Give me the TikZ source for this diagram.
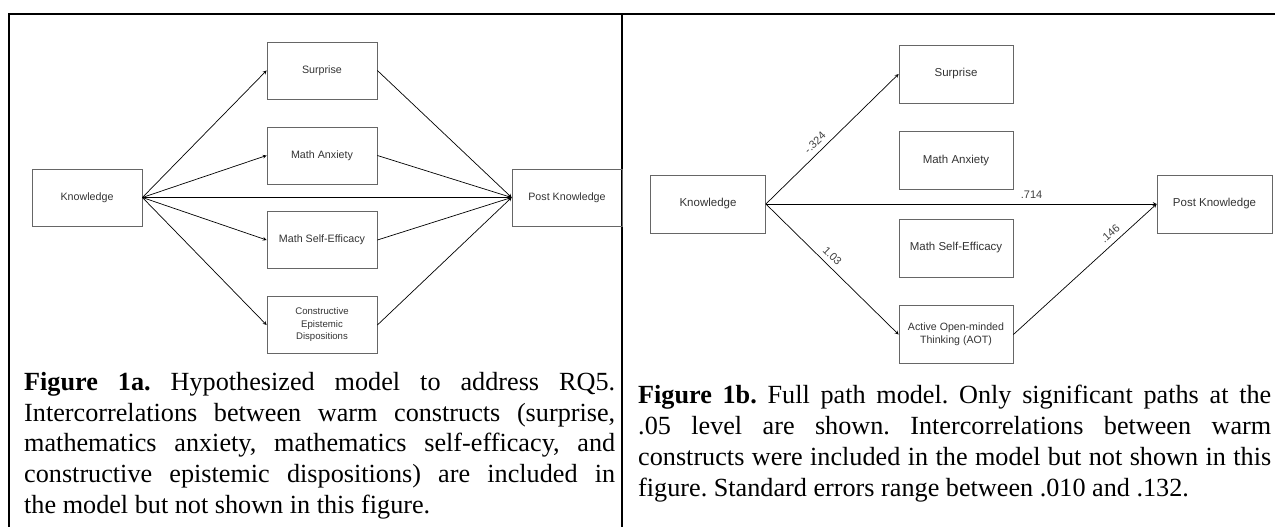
\documentclass[tikz,border=0pt]{standalone}
\usepackage{fontspec}
\setmainfont{Liberation Serif}
\setsansfont{Liberation Sans}
\begin{document}
\begin{tikzpicture}[x=1pt, y=-1pt,
    var/.style={draw=black!60, line width=0.8pt, rectangle, text=black!80, align=center, inner sep=0pt,
        font=\sffamily\fontsize{10.7}{12.5}\selectfont, minimum width=110pt, minimum height=57pt},
    varb/.style={var, font=\sffamily\fontsize{11.5}{13.5}\selectfont, minimum width=115pt, minimum height=58pt},
    arr/.style={-stealth, line width=0.7pt},
    coef/.style={font=\sffamily\fontsize{11}{13}\selectfont, text=black!75, sloped, above=2pt},
    capt/.style={anchor=north west, inner sep=0pt, align=justify, font=\fontsize{26.2}{30.8}\selectfont\frenchspacing}]
    \useasboundingbox (0,0) rectangle (1275,527);
    \draw[line width=2pt] (9,527) -- (9,13.7) -- (1275,13.7);
    \draw[line width=2pt] (622,13.7) -- (622,527);
    % Figure 1a
    \node[var] (lk) at (87,197.5) {Knowledge};
    \node[var] (ls) at (322,70.5) {Surprise};
    \node[var] (la) at (322,155.5) {Math Anxiety};
    \node[var] (le) at (322,240) {Math Self-Efficacy};
    \node[var, font=\sffamily\fontsize{9.6}{12.5}\selectfont] (lc) at (322,325) {Constructive\\Epistemic\\Dispositions};
    \node[var] (lp) at (567,197.5) {Post Knowledge};
    \foreach \n in {ls,la,le,lc} {
        \draw[arr] (lk.east) -- (\n.west);
        \draw[arr] (\n.east) -- (lp.west);
    }
    \draw[arr] (lk.east) -- (lp.west);
    \node[capt, text width=591pt] (lcap) at (24,372) {\textbf{Figure 1a.} Hypothesized model to address RQ5.\linebreak
        Intercorrelations between warm constructs (surprise,\linebreak
        mathematics anxiety, mathematics self-efficacy, and\linebreak
        constructive epistemic dispositions) are included in\linebreak
        the model but not shown in this figure.};
    % Figure 1b
    \node[varb] (rk) at (708,204) {Knowledge};
    \node[varb, minimum width=114pt] (rs) at (956,74) {Surprise};
    \node[varb, minimum width=114pt] (ra) at (956,160.5) {Math Anxiety};
    \node[varb, minimum width=114pt] (re) at (956,248) {Math Self-Efficacy};
    \node[varb, minimum width=114pt, font=\sffamily\fontsize{10.6}{13}\selectfont] (rt) at (956,334.5) {Active Open-minded\\Thinking (AOT)};
    \node[varb] (rp) at (1214.5,204) {Post Knowledge};
    \draw[arr] (rk.east) -- node[coef, pos=0.42] {-.324} (rs.west);
    \draw[arr] (rk.east) -- node[coef, pos=0.68] {.714} (rp.west);
    \draw[arr] (rk.east) -- node[coef, pos=0.45] {1.03} (rt.west);
    \draw[arr] (rt.east) -- node[coef, pos=0.72] {.146} (rp.west);
    \node[capt, text width=633pt] (rcap) at (638,385) {\textbf{Figure 1b.} Full path model. Only significant paths at the\linebreak
        .05 level are shown. Intercorrelations between warm\linebreak
        constructs were included in the model but not shown in this\linebreak
        figure. Standard errors range between .010 and .132.};
\end{tikzpicture}
\end{document}
